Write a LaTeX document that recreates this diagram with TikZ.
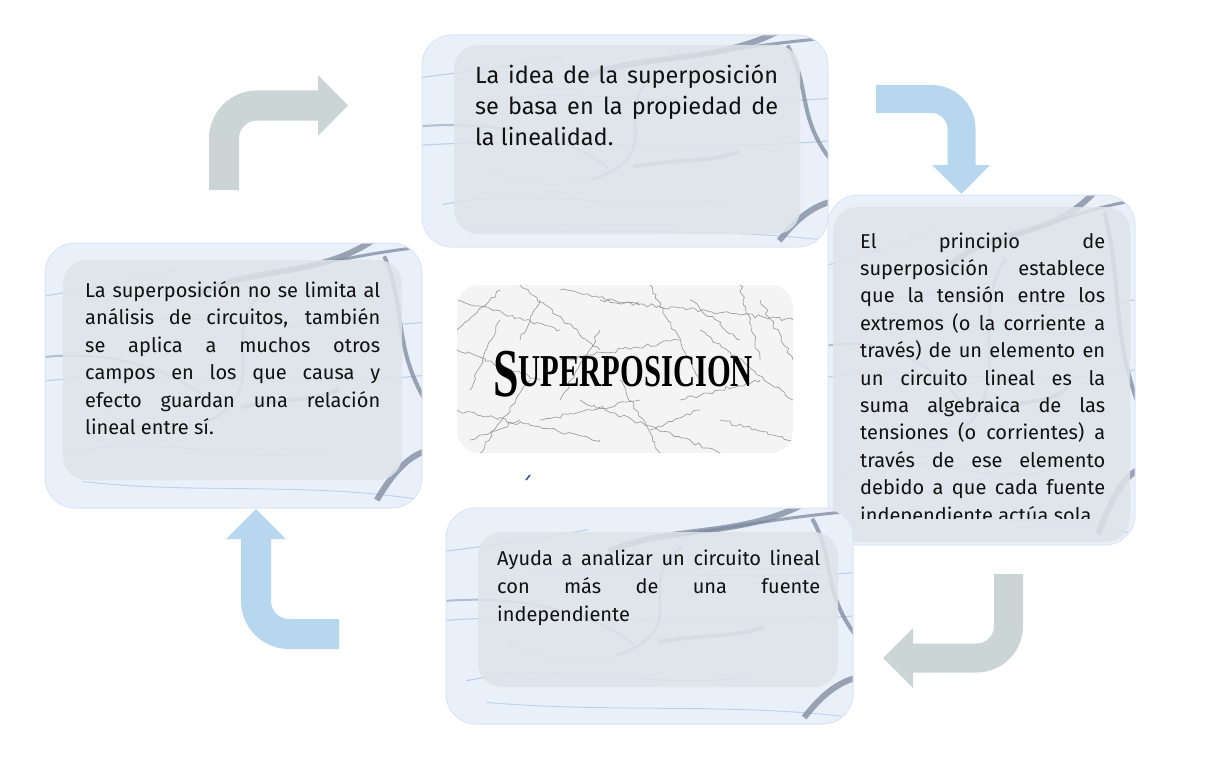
\documentclass[tikz,border=0pt]{standalone}
\usepackage{fontspec}
\usepackage{graphicx}
\setmainfont{Fira Sans}
\newfontfamily\titlefont{Liberation Serif}
\usetikzlibrary{decorations.pathmorphing}
\definecolor{arrgray}{HTML}{CCD5D5}
\definecolor{arrblue}{HTML}{B7D7EE}
\definecolor{outerblue}{HTML}{E9F0FA}
\definecolor{outeredge}{HTML}{DCE6F7}
\definecolor{innergray}{HTML}{DEE4E9}
\definecolor{swdark}{HTML}{7C889E}
\definecolor{swmid}{HTML}{A3B3CC}
\definecolor{swlight}{HTML}{C0D1EC}
\definecolor{txtcol}{HTML}{111111}
\definecolor{marblebg}{HTML}{F4F4F4}
\definecolor{vein}{HTML}{8A8A8A}
\definecolor{straymark}{HTML}{2B4F8A}
\newcommand\jl[1]{\makebox[\linewidth][s]{#1}\\}
\newcommand\marblebox[4]{%
  \begin{scope}
    \clip[rounded corners=30pt] (#1,#2) rectangle ++(#3,#4);
    \fill[outerblue] (#1,#2) rectangle ++(#3,#4);
    \begin{scope}[shift={(#1,#2)}, xscale=#3, yscale=#4]
      \draw[swlight, line width=1.2pt] (0,0.52) .. controls (0.3,0.48) and (0.6,0.56) .. (1,0.50);
      \draw[swlight, line width=1.2pt] (0.05,0.80) .. controls (0.3,0.70) and (0.5,0.85) .. (0.75,0.78);
      \draw[swlight, line width=1.2pt] (0.2,0.30) .. controls (0.4,0.25) and (0.6,0.35) .. (1,0.30);
      \draw[swlight, line width=1.2pt] (0,0.20) .. controls (0.2,0.15) .. (0.35,0.10);
      \draw[swlight, line width=1.0pt] (0.1,0.9) .. controls (0.4,0.95) and (0.7,0.9) .. (1,0.97);
      \draw[swlight, line width=1.0pt] (0.15,0.62) .. controls (0.25,0.75) and (0.45,0.72) .. (0.5,0.6);
      \draw[swmid, line width=2.5pt, opacity=.8] (0.58,0.18) .. controls (0.45,0.35) and (0.62,0.55) .. (0.42,0.68);
      \draw[swmid, line width=2pt, opacity=.8] (0.0,0.43) .. controls (0.2,0.40) and (0.38,0.50) .. (0.46,0.63);
      \draw[swdark, line width=4pt, opacity=.6] (0.52,0.62) .. controls (0.65,0.58) and (0.72,0.60) .. (0.78,0.55);
      \draw[swdark, line width=6pt, opacity=.75] (0.40,0.20) .. controls (0.55,0.08) and (0.72,0.14) .. (0.88,-0.02);
      \draw[swdark, line width=3pt, opacity=.75] (0.55,0.13) .. controls (0.68,0.10) and (0.80,0.05) .. (0.97,0.02);
      \draw[swdark, line width=4pt, opacity=.75] (0.90,0.05) .. controls (0.96,0.25) and (0.92,0.40) .. (1.02,0.62);
      \draw[swdark, line width=6pt, opacity=.75] (0.88,0.97) .. controls (0.93,0.85) and (0.97,0.80) .. (1.02,0.78);
    \end{scope}
  \end{scope}
  \draw[outeredge, line width=1pt, rounded corners=30pt] (#1,#2) rectangle ++(#3,#4);
}
\tikzset{
  bentarrow/.style={line width=30pt, rounded corners=33pt},
  innerbox/.style={fill=innergray, fill opacity=.85, rounded corners=24pt},
  para/.style={anchor=base west, inner sep=0pt, text=txtcol},
  veinline/.style={vein, line width=.7pt, opacity=.8, decorate,
    decoration={random steps, segment length=4pt, amplitude=2pt}},
}
\begin{document}
\begin{tikzpicture}[x=1pt, y=-1pt]
\useasboundingbox (0,0) rectangle (1230,757);
\fill[white] (0,0) rectangle (1230,757);

% boxes
\marblebox{422}{35}{406}{212}
\fill[innerbox] (454,45) rectangle (800,234);
\marblebox{828}{195}{307}{350}
\fill[innerbox] (833,207) rectangle (1130,542);
\marblebox{45}{243}{377}{265}
\fill[innerbox] (63,260) rectangle (402,480);
\marblebox{446}{508}{407}{216}
\fill[innerbox] (478,532) rectangle (838,687);

% centre marble
\begin{scope}
  \clip[rounded corners=22pt] (457,285) rectangle (793,453);
  \fill[marblebg] (457,285) rectangle (793,453);
  \pgfmathsetseed{11}
  \foreach \xa/\ya/\xb/\yb in {457/300/560/330, 520/285/600/350, 600/300/793/320, 457/350/540/380,
      560/360/680/340, 650/285/700/380, 700/330/793/400, 457/410/600/440, 580/400/720/453,
      720/420/793/440, 480/453/530/380, 620/380/660/453, 740/285/760/360, 457/330/500/290,
      540/420/640/400, 680/400/760/380, 500/320/470/390, 560/290/640/305, 690/300/740/340,
      600/330/560/400, 760/300/793/360, 470/440/520/420, 650/430/700/410, 540/300/520/340}
    \draw[veinline] (\xa,\ya) -- (\xb,\yb);
\end{scope}
\node[anchor=north, inner sep=0pt] (title) at (623,351)
  {\resizebox*{260pt}{46pt}{\titlefont\bfseries\raisebox{-8.8pt}{\fontsize{60}{60}\selectfont S}\fontsize{40}{40}\selectfont UPERPOSICION}};
\draw[straymark, line width=1.5pt] (526,480) -- (530,475);

% texts
\node[para] (ttop) at (475,84) {\parbox[t]{303pt}{\fontsize{23.5}{31}\selectfont
  \jl{La idea de la superposición}\jl{se basa en la propiedad de}la linealidad.}};
\begin{scope}
  \clip (828,195) rectangle (1135,518);
  \node[para] (tright) at (860,248) {\parbox[t]{245pt}{\fontsize{20}{27.4}\selectfont
    \jl{El principio de}\jl{superposición establece}\jl{que la tensión entre los}%
    \jl{extremos (o la corriente a}\jl{través) de un elemento en}\jl{un circuito lineal es la}%
    \jl{suma algebraica de las}\jl{tensiones (o corrientes) a}\jl{través de ese elemento}%
    \jl{debido a que cada fuente}independiente actúa sola.}};
\end{scope}
\node[para] (tleft) at (85,297) {\parbox[t]{295pt}{\fontsize{20}{27.5}\selectfont
  \jl{La superposición no se limita al}\jl{análisis de circuitos, también}\jl{se aplica a muchos otros}%
  \jl{campos en los que causa y}\jl{efecto guardan una relación}lineal entre sí.}};
\node[para] (tbottom) at (497,565) {\parbox[t]{323pt}{\fontsize{20}{28}\selectfont
  \jl{Ayuda a analizar un circuito lineal}\jl{con más de una fuente}independiente}};

% arrows
\coordinate (a1s) at (224,190);
\coordinate (a1c) at (224,105.5);
\coordinate (a1e) at (319,105.5);
\draw[bentarrow, arrgray] (a1s) -- (a1c) -- (a1e);
\fill[arrgray] (318,75) -- (348,105.5) -- (318,136) -- cycle;

\coordinate (a2s) at (876,99);
\coordinate (a2c) at (961.5,99);
\coordinate (a2e) at (961.5,166);
\draw[bentarrow, arrblue, line width=28pt, rounded corners=30pt] (a2s) -- (a2c) -- (a2e);
\fill[arrblue] (932,165) -- (990,165) -- (961.5,194) -- cycle;

\coordinate (a3s) at (1008.5,574);
\coordinate (a3c) at (1008.5,658);
\coordinate (a3e) at (912,658);
\draw[bentarrow, arrgray, line width=29pt, rounded corners=32pt] (a3s) -- (a3c) -- (a3e);
\fill[arrgray] (913,628) -- (883,658) -- (913,688) -- cycle;

\coordinate (a4s) at (339,634);
\coordinate (a4c) at (256,634);
\coordinate (a4e) at (256,538);
\draw[bentarrow, arrblue] (a4s) -- (a4c) -- (a4e);
\fill[arrblue] (226,539) -- (256,509) -- (286,539) -- cycle;
\end{tikzpicture}
\end{document}
